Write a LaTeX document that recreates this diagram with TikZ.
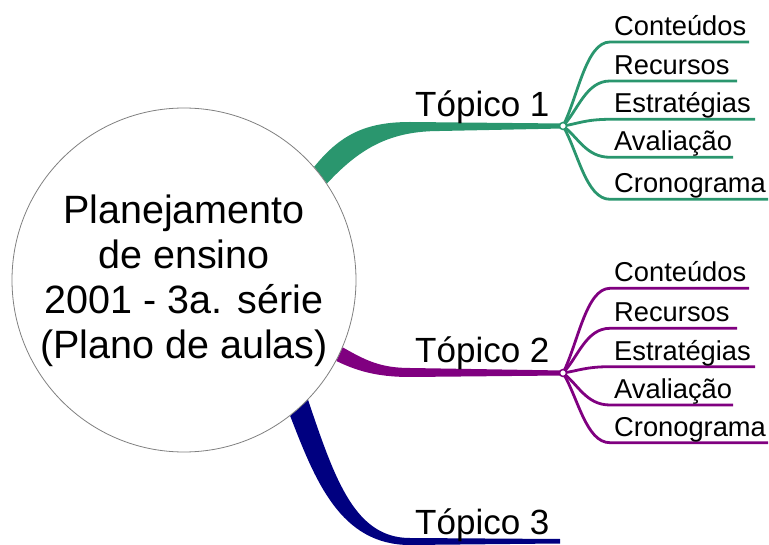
\documentclass[tikz,border=0pt]{standalone}
\usepackage{fontspec}
\setmainfont{Liberation Sans}
\usetikzlibrary{backgrounds}
\definecolor{tgreen}{RGB}{42,150,110}
\definecolor{tpurple}{RGB}{128,0,128}
\definecolor{tnavy}{RGB}{0,0,128}
\begin{document}
\begin{tikzpicture}[x=1pt,y=-1pt,
  leaf/.style={line width=2.8pt, line cap=butt},
  leaftext/.style={anchor=base west, inner sep=0pt, font=\fontsize{27.3}{30}\selectfont},
  topictext/.style={anchor=base west, inner sep=0pt, font=\fontsize{35}{40}\selectfont},
  roottext/.style={anchor=base, inner sep=0pt, font=\fontsize{39.5}{45}\selectfont},
  junction/.style={circle, fill=white, inner sep=0pt, minimum size=7pt, line width=1.5pt},
  rootbox/.style={circle, draw=gray, fill=white, minimum size=344pt, inner sep=0pt, line width=0.8pt}]
\useasboundingbox (0,0) rectangle (769,545);

% central idea
\node[rootbox] (root) at (184,280) {};
\node[roottext] (r1) at (184,224) {Planejamento};
\node[roottext] (r2) at (184,269) {de ensino};
\node[roottext] (r3) at (184,314) {2001 - 3a. série};
\node[roottext] (r4) at (184,359) {(Plano de aulas)};

\coordinate (j1) at (563,126);
\coordinate (j2) at (563,373);
\coordinate (e3) at (560,541);

% main branches (behind the circle)
\begin{scope}[on background layer]
\fill[tgreen] (root.41) .. controls (340,135) and (365,122) .. (410,122)
  -- (563,123.5) -- (563,128.5) -- (440,131)
  .. controls (390,131) and (360,148) .. (root.34) -- cycle;
\fill[tpurple] (root.-23.5) .. controls (365,360) and (380,368) .. (410,368)
  -- (563,370.5) -- (563,375.5) -- (410,377)
  .. controls (375,377) and (355,370) .. (root.-28.5) -- cycle;
\fill[tnavy] (root.-44.8) .. controls (335,480) and (355,538) .. (410,538)
  -- (560,539) -- (560,543.5) -- (410,545)
  .. controls (340,545) and (315,480) .. (root.-52.4) -- cycle;
\end{scope}

% topic labels
\node[topictext] (tp1) at (415,117) {Tópico 1};
\node[topictext] (tp2) at (415,363) {Tópico 2};
\node[topictext] (tp3) at (415,534) {Tópico 3};

% leaves of topic 1
\foreach \y/\e/\t [count=\i] in {42/749/Conteúdos, 81/737/Recursos, 119.3/755/Estratégias, 157.3/733/Avaliação, 199.3/768/Cronograma}{
  \pgfmathsetmacro\cy{126+0.35*(\y-126)}
  \draw[leaf, tgreen] (j1) .. controls (578,\cy) and (586,\y) .. (610,\y) -- (\e,\y);
  \node[leaftext] (a\i) at (614,\y-6.5) {\t};
}
\node[junction, draw=tgreen] (jd1) at (j1) {};

% leaves of topic 2
\foreach \y/\e/\t [count=\i] in {288.3/749/Conteúdos, 328.3/737/Recursos, 366.7/755/Estratégias, 405/733/Avaliação, 442.7/768/Cronograma}{
  \pgfmathsetmacro\cy{373+0.35*(\y-373)}
  \draw[leaf, tpurple] (j2) .. controls (578,\cy) and (586,\y) .. (610,\y) -- (\e,\y);
  \node[leaftext] (b\i) at (614,\y-6.5) {\t};
}
\node[junction, draw=tpurple] (jd2) at (j2) {};
\end{tikzpicture}
\end{document}
